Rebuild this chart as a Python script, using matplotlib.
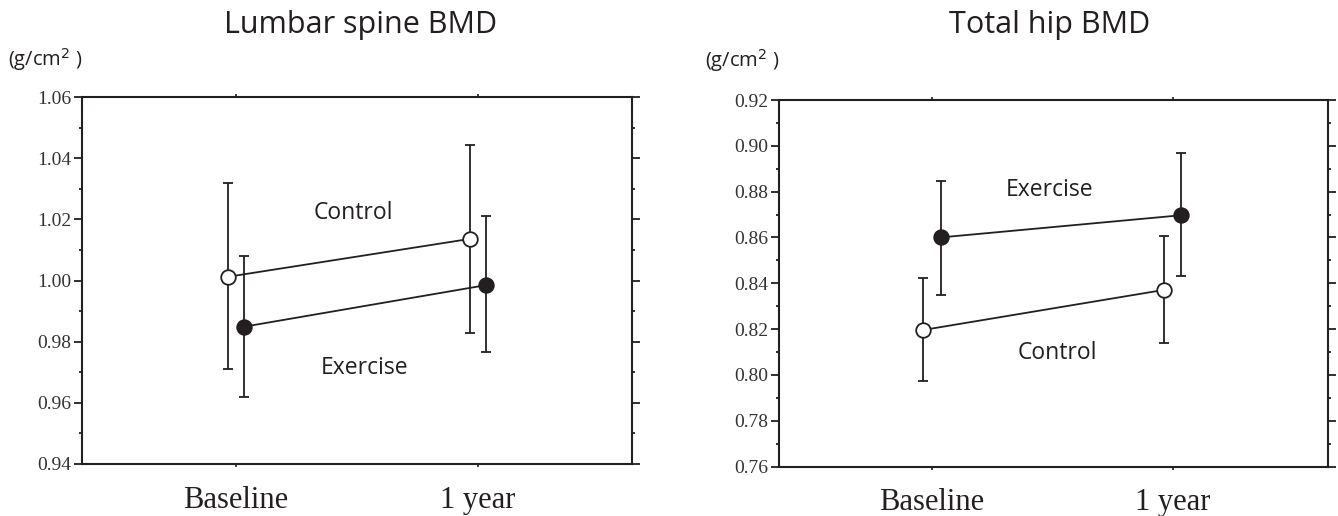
import matplotlib
matplotlib.use("Agg")
import matplotlib.pyplot as plt
from matplotlib.ticker import MultipleLocator, FixedLocator

# ---- data ----
timepoints = ["Baseline", "1 year"]

lumbar_control_mean = [1.0012, 1.0136]
lumbar_control_lo = [0.9711, 0.9829]
lumbar_control_hi = [1.0318, 1.0443]
lumbar_exercise_mean = [0.9849, 0.9985]
lumbar_exercise_lo = [0.9618, 0.9767]
lumbar_exercise_hi = [1.0080, 1.0211]

hip_control_mean = [0.8196, 0.8371]
hip_control_lo = [0.7973, 0.8141]
hip_control_hi = [0.8421, 0.8607]
hip_exercise_mean = [0.8600, 0.8697]
hip_exercise_lo = [0.8349, 0.8432]
hip_exercise_hi = [0.8847, 0.8967]

titles = ["Lumbar spine BMD", "Total hip BMD"]
unit_label = "(g/cm$^2$ )"

INK = "#231f20"
W, H = 1338, 516
fig = plt.figure(figsize=(W / 100, H / 100), dpi=100)

def px_axes(x0, y0, x1, y1):
    return fig.add_axes([x0 / W, 1 - y1 / H, (x1 - x0) / W, (y1 - y0) / H])

ax1 = px_axes(82, 97, 632, 464)
ax2 = px_axes(779, 100, 1328, 466.5)

def panel(ax, ylim, ctrl, exer, ctrl_txt, exer_txt, xlim, off):
    xs = [1, 2]
    for (m, lo, hi), fill, dx in ((ctrl, "white", -off), (exer, INK, off)):
        x = [v + dx for v in xs]
        yerr = [[mm - l for mm, l in zip(m, lo)], [h - mm for mm, h in zip(m, hi)]]
        ax.errorbar(x, m, yerr=yerr, fmt="-", color=INK, lw=1.3,
                    elinewidth=1.3, capsize=3.5, capthick=1.3, zorder=2)
        ax.plot(x, m, "o", ms=10.5, mfc=fill, mec=INK, mew=1.3, zorder=3)
    ax.set_xlim(*xlim)
    ax.set_ylim(*ylim)
    ax.yaxis.set_major_locator(MultipleLocator(0.02))
    ax.yaxis.set_minor_locator(MultipleLocator(0.01))
    ax.set_yticklabels([f"{v:.2f}" for v in ax.get_yticks()])
    ax.xaxis.set_major_locator(FixedLocator(xs))
    ax.set_xticklabels(timepoints, family="Liberation Serif", fontsize=22, color=INK)
    ax.tick_params(axis="x", which="major", direction="out", length=2.5, width=1.2,
                   top=True, bottom=True, pad=13, colors=INK)
    ax.tick_params(axis="y", which="major", direction="out", length=5.5, width=1.3,
                   left=True, right=True, colors=INK, labelsize=14, pad=2)
    ax.tick_params(axis="y", which="minor", direction="out", length=2.5, width=1.3,
                   left=True, right=True, colors=INK)
    for lab in ax.get_yticklabels():
        lab.set_family("Liberation Serif")
        lab.set_color("#333333")
    for s in ax.spines.values():
        s.set_linewidth(1.5)
        s.set_color(INK)
    ax.text(*ctrl_txt, "Control", family="Open Sans", fontsize=16.5, color=INK,
            ha="center", va="center")
    ax.text(*exer_txt, "Exercise", family="Open Sans", fontsize=16.5, color=INK,
            ha="center", va="center")

panel(ax1, (0.94, 1.06),
      (lumbar_control_mean, lumbar_control_lo, lumbar_control_hi),
      (lumbar_exercise_mean, lumbar_exercise_lo, lumbar_exercise_hi),
      (1.485, 1.0221), (1.53, 0.9714), (0.364, 2.636), 0.034)
panel(ax2, (0.76, 0.92),
      (hip_control_mean, hip_control_lo, hip_control_hi),
      (hip_exercise_mean, hip_exercise_lo, hip_exercise_hi),
      (1.52, 0.8094), (1.49, 0.8807), (0.365, 2.645), 0.036)

fig.text(360.5 / W, 1 - 33 / H, titles[0], family="Open Sans", fontsize=22,
         color=INK, ha="center", va="baseline")
fig.text(1050 / W, 1 - 33 / H, titles[1], family="Open Sans", fontsize=22,
         color=INK, ha="center", va="baseline")

fig.text(8 / W, 1 - 60 / H, unit_label, family="Open Sans", fontsize=14.5,
         color=INK, ha="left", va="center")
fig.text(705 / W, 1 - 61 / H, unit_label, family="Open Sans", fontsize=14.5,
         color=INK, ha="left", va="center")

fig.savefig("out.png", dpi=100, facecolor="white")
